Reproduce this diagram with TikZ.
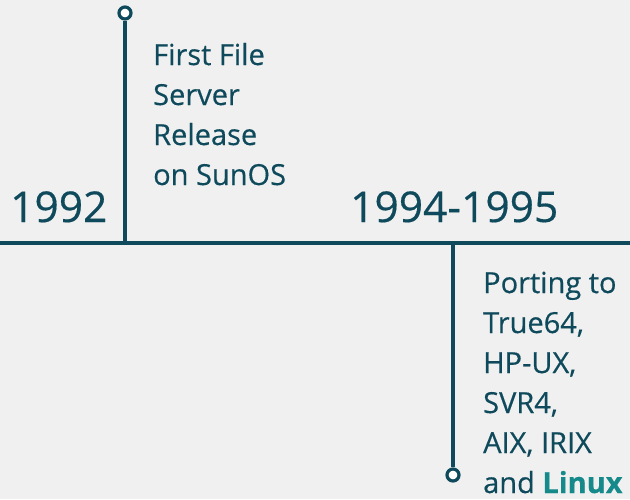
\documentclass[tikz,border=0pt]{standalone}
\usepackage{fontspec}
\setmainfont[FakeBold=0.4]{Open Sans}
\usepackage{tikz}
\usetikzlibrary{positioning}
\definecolor{tinte}{HTML}{0E4A5B}
\definecolor{linuxfarbe}{HTML}{16898B}
\definecolor{grund}{HTML}{F0F0F0}
\def \jahrgroesse {\fontsize{42.5}{50}\selectfont}
\def \textgroesse {\fontsize{29}{40}\selectfont}

\begin{document}
\begin{tikzpicture}[x=1pt,y=-1pt,
  linie/.style={draw=tinte,line width=3.6pt},
  punkt/.style={circle,draw=tinte,fill=white,line width=3.2pt,minimum size=12pt,inner sep=0pt},
  jahr/.style={anchor=base west,text=tinte,inner sep=0pt,font=\jahrgroesse},
  eintrag/.style={anchor=base west,text=tinte,inner sep=0pt,align=left,font=\textgroesse}]
  \fill[grund] (0,0) rectangle (630,499);
  \useasboundingbox (0,0) rectangle (630,499);
  % Zeitachse
  \coordinate (achselinks) at (0,243);
  \coordinate (achserechts) at (630,243);
  \coordinate (fuss1992) at (125,243);
  \coordinate (fuss1994) at (453,243);
  \draw[linie] (achselinks) -- (achserechts);
  % 1992 (base = letzte Zeile)
  \node[punkt] (punkt1992) at (125,13) {};
  \draw[linie] (fuss1992) -- (punkt1992);
  \node[jahr] (jahr1992) at (10,222) {1992};
  \node[eintrag] (text1992) at (153,185)
  {First File\\Server\\Release\\on SunOS};
  % 1994-1995
  \node[punkt] (punkt1994) at (453,475) {};
  \draw[linie] (fuss1994) -- (punkt1994);
  \node[jahr] (jahr1994) at (350,222) {1994-1995};
  \node[eintrag] (text1994) at (483,493)
  {Porting to\\True64,\\HP-UX,\\SVR4,\\AIX, IRIX\\and \textcolor{linuxfarbe}{\textbf{Linux}}};
\end{tikzpicture}
\end{document}
